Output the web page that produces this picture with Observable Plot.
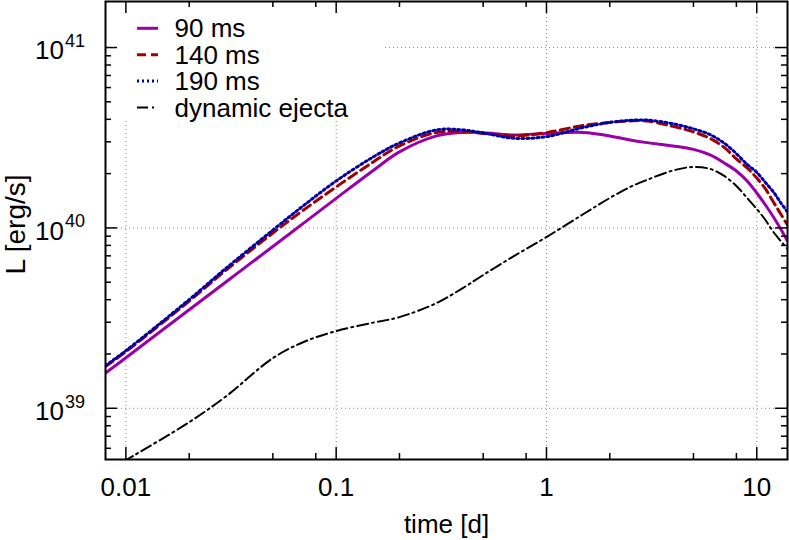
<!DOCTYPE html>
<html><head><meta charset="utf-8">
<script src="https://cdn.jsdelivr.net/npm/d3@7"></script>
<script src="https://cdn.jsdelivr.net/npm/@observablehq/plot@0.6"></script>
<style>
body{margin:0;background:#fff;}
#chart svg{display:block;}
</style></head><body><div id="chart"></div>
<script>
// time [d]
const times = [0.008,0.01,0.02,0.03,0.05,0.07,0.1,0.15,0.2,0.3,0.4,0.5,0.7,1,1.5,2,2.5,3,4,5,6,7,8,9,10,11,12,13,14];
// L [erg/s]
const L90 = [1.567e39,1.906e39,3.52e39,5.03e39,7.89e39,1.063e40,1.458e40,2.082e40,2.638e40,3.236e40,3.384e40,3.371e40,3.278e40,3.341e40,3.384e40,3.236e40,3.075e40,2.971e40,2.848e40,2.724e40,2.538e40,2.292e40,2.069e40,1.821e40,1.562e40,1.34e40,1.15e40,9.86e39,8.46e39];
const L140 = [1.702e39,2.061e39,3.93e39,5.84e39,9.37e39,1.257e40,1.687e40,2.321e40,2.848e40,3.384e40,3.428e40,3.341e40,3.236e40,3.375e40,3.701e40,3.845e40,3.92e40,3.92e40,3.654e40,3.405e40,3.134e40,2.794e40,2.412e40,2.15e40,1.892e40,1.644e40,1.392e40,1.194e40,1.038e40];
const L190 = [1.724e39,2.088e39,4.006e39,5.991e39,9.73e39,1.331e40,1.821e40,2.474e40,2.959e40,3.495e40,3.495e40,3.362e40,3.142e40,3.207e40,3.608e40,3.845e40,3.95e40,3.96e40,3.78e40,3.54e40,3.29e40,2.95e40,2.58e40,2.25e40,2.032e40,1.784e40,1.582e40,1.38e40,1.225e40];
const Ldyn = [4.39e38,5.15e38,8.37e38,1.167e39,1.897e39,2.33e39,2.679e39,2.985e39,3.203e39,3.831e39,4.64e39,5.479e39,6.982e39,8.9e39,1.194e40,1.465e40,1.687e40,1.844e40,2.082e40,2.178e40,2.123e40,1.941e40,1.708e40,1.465e40,1.273e40,1.106e40,9.49e39,8.46e39,7.64e39];

const seriesNames = ["90 ms","140 ms","190 ms","dynamic ejecta"];
const xMajorTicks = [0.01,0.1,1,10];
const xTickLabels = ["0.01","0.1","1","10"];
const xMinorTicks = [0.02,0.05,0.08,0.2,0.5,0.8,2,5,8];
const yMajorTicks = [1e39,1e40,1e41];
const yTickBase = "10";
const yExponents = ["39","40","41"];
const yMinorTicks = [6e38,7e38,8e38,9e38,2e39,3e39,4e39,5e39,6e39,7e39,8e39,9e39,2e40,3e40,4e40,5e40,6e40,7e40,8e40,9e40];
const xLabel = "time [d]";
const yLabel = "L [erg/s]";

const styles = [
  {stroke:"#9a00aa", strokeWidth:3, dash:null},
  {stroke:"#a00000", strokeWidth:3, dash:"9,5"},
  {stroke:"#0000a8", strokeWidth:3, dash:"2,3"},
  {stroke:"#000000", strokeWidth:2, dash:"11,4,2,4"}
];
const seriesValues = [L90, L140, L190, Ldyn];

const W = 789, H = 540;
const mL = 105, mR = 2, mT = 1, mB = 81;
const pW = W - mL - mR, pH = H - mT - mB;
const FONT = "'Liberation Sans', Arial, Helvetica, sans-serif";

function legendMark(index, scales, values, dims) {
  const g = d3.create("svg:g").attr("font-family", FONT).attr("font-size", 26).attr("text-anchor", "start");
  const x0 = dims.marginLeft, y0 = dims.marginTop;
  g.append("rect").attr("x", x0 + 1).attr("y", y0 + 1).attr("width", 277).attr("height", 119).attr("fill", "white");
  seriesNames.forEach((name, i) => {
    const y = y0 + 27.3 + i * 26.4;
    const s = styles[i];
    const ln = g.append("line").attr("x1", x0 + 32).attr("x2", x0 + 53).attr("y1", y).attr("y2", y)
      .attr("stroke", s.stroke).attr("stroke-width", s.strokeWidth);
    if (s.dash) ln.attr("stroke-dasharray", s.dash);
    g.append("text").attr("x", x0 + 69.5).attr("y", y).attr("dy", "0.35em").attr("fill", "black")
      .attr("text-anchor", "start").text(name);
  });
  return g.node();
}

const lineMarks = seriesValues.map((vals, i) => Plot.line(times.map((t, j) => ({t, L: vals[j]})), {
  x: "t", y: "L", stroke: styles[i].stroke, strokeWidth: styles[i].strokeWidth,
  strokeDasharray: styles[i].dash || undefined, curve: "catmull-rom", clip: true
}));

const gridStyle = {stroke: "#888", strokeWidth: 1, strokeDasharray: "1,3"};
const tk = {stroke: "black", strokeWidth: 1.5};

const chart = Plot.plot({
  width: W, height: H,
  marginLeft: mL, marginRight: mR, marginTop: mT, marginBottom: mB,
  style: {fontFamily: FONT, background: "white", color: "black"},
  x: {type: "log", domain: [0.008, 14], axis: null},
  y: {type: "log", domain: [5.2e38, 1.8e41], axis: null},
  marks: [
    Plot.ruleX(xMajorTicks, {x: d => d, ...gridStyle}),
    Plot.ruleY(yMajorTicks, {y: d => d, ...gridStyle}),
    legendMark,
    ...lineMarks,
    // ticks (inside, mirrored)
    Plot.ruleX(xMajorTicks, {x: d => d, insetBottom: pH - 12, ...tk}),
    Plot.ruleX(xMajorTicks, {x: d => d, insetTop: pH - 12, ...tk}),
    Plot.ruleX(xMinorTicks, {x: d => d, insetBottom: pH - 6, ...tk}),
    Plot.ruleX(xMinorTicks, {x: d => d, insetTop: pH - 6, ...tk}),
    Plot.ruleY(yMajorTicks, {y: d => d, insetRight: pW - 12, ...tk}),
    Plot.ruleY(yMajorTicks, {y: d => d, insetLeft: pW - 12, ...tk}),
    Plot.ruleY(yMinorTicks, {y: d => d, insetRight: pW - 6, ...tk}),
    Plot.ruleY(yMinorTicks, {y: d => d, insetLeft: pW - 6, ...tk}),
    Plot.frame({stroke: "black", strokeWidth: 2}),
    // tick labels
    Plot.text(xMajorTicks, {x: d => d, text: (d, i) => xTickLabels[i], frameAnchor: "bottom", textAnchor: "middle", lineAnchor: "top", dy: 18, fontSize: 26, fill: "black"}),
    Plot.text(yMajorTicks, {y: d => d, text: () => yTickBase, frameAnchor: "left", textAnchor: "end", lineAnchor: "middle", dx: -41.5, dy: 3.3, fontSize: 26, fill: "black"}),
    Plot.text(yMajorTicks, {y: d => d, text: (d, i) => yExponents[i], frameAnchor: "left", textAnchor: "start", lineAnchor: "middle", dx: -40.5, dy: -6.3, fontSize: 18, fill: "black"}),
    // axis labels
    Plot.text([xLabel], {text: d => d, frameAnchor: "bottom", textAnchor: "middle", lineAnchor: "middle", dy: 65.2, fontSize: 26, fill: "black"}),
    Plot.text([yLabel], {text: d => d, frameAnchor: "left", textAnchor: "middle", lineAnchor: "middle", rotate: -90, dx: -89, dy: -6, fontSize: 28, fill: "black"})
  ]
});
document.getElementById("chart").appendChild(chart);
</script>
</body></html>
